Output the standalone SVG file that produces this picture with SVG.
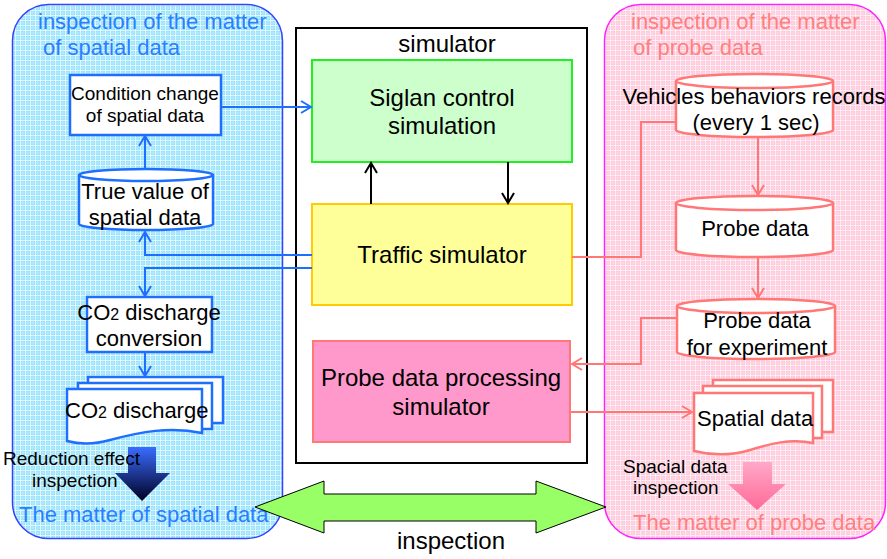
<svg xmlns="http://www.w3.org/2000/svg" width="887" height="559" viewBox="0 0 887 559">
<style>
text{font-family:"Liberation Sans",Arial,sans-serif;fill:#000}
.t24{font-size:24px}
.t22{font-size:22px}
.t19{font-size:19px}
.blue{fill:#2a7fff}
.pinkt{fill:#ff8080}
.bl{fill:none;stroke:#1f6fff;stroke-width:2}
.rd{fill:none;stroke:#ff7777;stroke-width:2}
.bk{fill:none;stroke:#000;stroke-width:2}
.bnode{fill:#fff;stroke:#1f6fff;stroke-width:2.5}
.rnode{fill:#fff;stroke:#ff7777;stroke-width:2.5}
</style>
<defs>
<pattern id="gridB" width="5" height="5" patternUnits="userSpaceOnUse">
<rect width="5" height="5" fill="#8ee0fb"/>
<path d="M0,0.5H5M0.5,0V5" stroke="#e6f9ff" stroke-width="1.2"/>
<path d="M0,3H5M3,0V5" stroke="#c2efff" stroke-width="0.8"/>
</pattern>
<pattern id="gridP" width="5" height="5" patternUnits="userSpaceOnUse">
<rect width="5" height="5" fill="#ffc4d8"/>
<path d="M0,0.5H5M0.5,0V5" stroke="#fff0f5" stroke-width="1.2"/>
<path d="M0,3H5M3,0V5" stroke="#ffdde8" stroke-width="0.8"/>
</pattern>
<linearGradient id="gB" x1="0" y1="0" x2="0" y2="1">
<stop offset="0" stop-color="#3a6cff"/>
<stop offset="1" stop-color="#000022"/>
</linearGradient>
<linearGradient id="gP" x1="0" y1="0" x2="0" y2="1">
<stop offset="0" stop-color="#ffa8c8"/>
<stop offset="1" stop-color="#ff6a98"/>
</linearGradient>
<marker id="aB" viewBox="-12 -8 14 16" refX="0" refY="0" markerWidth="14" markerHeight="16" markerUnits="userSpaceOnUse" orient="auto">
<path d="M-10,-6L0,0L-10,6" fill="none" stroke="#1f6fff" stroke-width="2"/>
</marker>
<marker id="aR" viewBox="-12 -8 14 16" refX="0" refY="0" markerWidth="14" markerHeight="16" markerUnits="userSpaceOnUse" orient="auto">
<path d="M-10,-6L0,0L-10,6" fill="none" stroke="#ff7777" stroke-width="2"/>
</marker>
<marker id="aK" viewBox="-12 -8 14 16" refX="0" refY="0" markerWidth="14" markerHeight="16" markerUnits="userSpaceOnUse" orient="auto">
<path d="M-10,-6L0,0L-10,6" fill="none" stroke="#000" stroke-width="2"/>
</marker>
</defs>

<g id="panel-spatial">
<rect x="12.5" y="4.5" width="270" height="534" rx="36" ry="36" fill="url(#gridB)" stroke="#3344ff" stroke-width="1.5"/>
<text class="t22 blue" x="38" y="29">inspection of the matter</text>
<text class="t22 blue" x="43" y="55">of spatial data</text>
<text class="t22 blue" x="19" y="522">The matter of spatial data</text>
</g>

<g id="panel-probe">
<rect x="604.5" y="4.5" width="281" height="534" rx="36" ry="36" fill="url(#gridP)" stroke="#ff22ff" stroke-width="1.5"/>
<text class="t22 pinkt" x="631" y="29">inspection of the matter</text>
<text class="t22 pinkt" x="633" y="55">of probe data</text>
<text class="t22 pinkt" x="633" y="530">The matter of probe data</text>
</g>

<g id="simulator">
<rect x="296" y="28" width="291" height="435" fill="#fff" stroke="#000" stroke-width="2"/>
<text class="t24" x="447" y="52" text-anchor="middle">simulator</text>
</g>

<g id="inspection-arrow">
<path d="M255,507 L324,481 V494 H536 V481 L606,507 L536,533 V521 H324 V533 Z" fill="#99ff66" stroke="#000" stroke-width="1"/>
<text class="t24" x="451" y="549" text-anchor="middle">inspection</text>
</g>

<g id="signal-control">
<rect x="312" y="60" width="260" height="102" fill="#ccffcc" stroke="#22ee22" stroke-width="2"/>
<text class="t24" x="442" y="106" text-anchor="middle">Siglan control</text>
<text class="t24" x="442" y="134" text-anchor="middle">simulation</text>
</g>

<g id="traffic-simulator">
<rect x="312" y="204" width="260" height="101" fill="#ffff99" stroke="#ffcc00" stroke-width="2"/>
<text class="t24" x="442" y="263" text-anchor="middle">Traffic simulator</text>
</g>

<g id="probe-processing">
<rect x="313" y="341" width="257" height="101" fill="#ff99cc" stroke="#ff7777" stroke-width="2"/>
<text class="t24" x="441" y="386" text-anchor="middle">Probe data processing</text>
<text class="t24" x="441" y="415" text-anchor="middle">simulator</text>
</g>

<g id="condition-change">
<rect x="70" y="75" width="151" height="60" class="bnode"/>
<text class="t19" x="145" y="100" text-anchor="middle">Condition change</text>
<text class="t19" x="145" y="122" text-anchor="middle">of spatial data</text>
</g>

<g id="true-value">
<path d="M79,175 V224 A67,6 0 0 0 213,224 V175" class="bnode"/>
<ellipse cx="146" cy="175" rx="67" ry="6" class="bnode"/>
<text class="t22" x="145" y="199" text-anchor="middle">True value of</text>
<text class="t22" x="145" y="225" text-anchor="middle">spatial data</text>
</g>

<g id="co2-conversion">
<rect x="87" y="297" width="125" height="55" class="bnode"/>
<text class="t22" x="149" y="320" text-anchor="middle">CO<tspan font-size="16">2</tspan> discharge</text>
<text class="t22" x="149" y="346" text-anchor="middle">conversion</text>
</g>

<g id="co2-discharge">
<rect x="88" y="377" width="135" height="46" class="bnode"/>
<rect x="78" y="383" width="134" height="46" class="bnode"/>
<path d="M67,389 H202 V433 C170,426 140,432 110,440 C92,445 78,444 67,441 Z" class="bnode"/>
<text class="t22" x="65" y="418">CO<tspan font-size="16">2</tspan> discharge</text>
</g>

<g id="reduction-effect">
<path d="M128,447 H156 V473 H170 L142,501 L115,473 H128 Z" fill="url(#gB)"/>
<text class="t19" x="3" y="465">Reduction effect</text>
<text class="t19" x="32" y="487">inspection</text>
</g>

<g id="vehicles-records">
<path d="M676,81 V130 A78.5,7 0 0 0 833,130 V81" class="rnode"/>
<ellipse cx="754.5" cy="81" rx="78.5" ry="7" class="rnode"/>
<text class="t22" x="754" y="104" text-anchor="middle">Vehicles behaviors records</text>
<text class="t22" x="756" y="130" text-anchor="middle">(every 1 sec)</text>
</g>

<g id="probe-data">
<path d="M676,203 V250 A78.5,7 0 0 0 833,250 V203" class="rnode"/>
<ellipse cx="754.5" cy="203" rx="78.5" ry="7" class="rnode"/>
<text class="t22" x="755" y="236" text-anchor="middle">Probe data</text>
</g>

<g id="probe-experiment">
<path d="M677,306 V352 A79,7 0 0 0 835,352 V306" class="rnode"/>
<ellipse cx="756" cy="306" rx="79" ry="7" class="rnode"/>
<text class="t22" x="757" y="328" text-anchor="middle">Probe data</text>
<text class="t22" x="757" y="355" text-anchor="middle">for experiment</text>
</g>

<g id="spatial-data">
<rect x="713" y="380" width="120" height="52" class="rnode"/>
<rect x="703" y="386" width="119" height="52" class="rnode"/>
<path d="M694,393 H813 V443 C790,438 770,444 750,450 C730,456 710,455 694,451 Z" class="rnode"/>
<text class="t22" x="697" y="426">Spatial data</text>
</g>

<g id="spacial-inspection">
<path d="M743,462 H772 V484 H786 L757,510 L728,484 H743 Z" fill="url(#gP)"/>
<text class="t19" x="623" y="473">Spacial data</text>
<text class="t19" x="633" y="494">inspection</text>
</g>

<g id="connectors">
<path d="M221,107 H311" class="bl" marker-end="url(#aB)"/>
<path d="M145,169 V136" class="bl" marker-end="url(#aB)"/>
<path d="M312,255 H145 V232" class="bl" marker-end="url(#aB)"/>
<path d="M312,268 H145 V296" class="bl" marker-end="url(#aB)"/>
<path d="M145,352 V376" class="bl" marker-end="url(#aB)"/>
<path d="M572,257 H641 V122 H676" class="rd"/>
<path d="M758,137 V195" class="rd" marker-end="url(#aR)"/>
<path d="M758,257 V298" class="rd" marker-end="url(#aR)"/>
<path d="M677,318 H641 V364 H572" class="rd" marker-end="url(#aR)"/>
<path d="M570,412 H692" class="rd" marker-end="url(#aR)"/>
<path d="M371,204 V163" class="bk" marker-end="url(#aK)"/>
<path d="M508,162 V203" class="bk" marker-end="url(#aK)"/>
</g>
</svg>
